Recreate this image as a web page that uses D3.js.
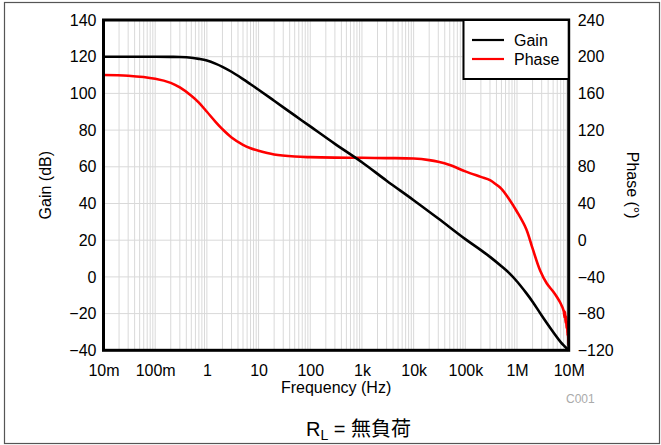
<!DOCTYPE html>
<html><head><meta charset="utf-8">
<script src="https://cdn.jsdelivr.net/npm/d3@7"></script>
<style>body{margin:0;background:#fff}svg{display:block;font-family:"Liberation Sans",Arial,sans-serif}</style>
</head><body><svg id="c" width="661" height="445"></svg>
<script>
// ---- data ----
const gainFreq = [0.01,0.03,0.1,0.2,0.3,0.5,0.7,1,1.5,2,3,5,7,10,20,50,100,300,1000,3000,10000,30000,100000,200000,300000,500000,700000,1e6,1.5e6,2e6,3e6,5e6,7e6,1e7];
const gainDb  = [120,120,120,119.9,119.8,119.4,118.8,117.9,116.1,114.5,111.8,107.8,105,102,96,88,82,72.5,62.5,52.4,41.8,31.8,20.6,14.6,10.9,5.8,2.2,-2.5,-8.7,-13.5,-21,-30,-35.5,-40];
const phaseFreq = [0.01,0.03,0.1,0.2,0.3,0.5,0.7,1,1.5,2,3,5,7,10,20,50,100,300,1000,3000,10000,20000,30000,50000,100000,200000,300000,400000,500000,700000,1e6,1.5e6,2e6,2.8e6,3.75e6,5e6,6e6,7e6,8e6,8.3e6,8.5e6,8.7e6,8.9e6,9.1e6,9.3e6,9.5e6,9.7e6,9.85e6,1e7];
const phaseDeg  = [180,179.3,176,171.5,166.5,157.5,150,140,128.5,121,112,104,100.3,97.5,93.5,91.2,90.5,90,89.8,89.5,89,87.3,85.5,82,75,69,65.5,60.5,56,45,31,12.5,-9,-33,-47,-56,-62.5,-69,-77,-84,-78,-90,-83,-96,-88,-104,-96,-110,-115];
const xTickVals   = [0.01,0.1,1,10,100,1000,1e4,1e5,1e6,1e7];
const xTickLabels = ["10m","100m","1","10","100","1k","10k","100k","1M","10M"];
const gainTicks  = [-40,-20,0,20,40,60,80,100,120,140];
const phaseTicks = [-120,-80,-40,0,40,80,120,160,200,240];
const seriesNames = ["Gain","Phase"];
const seriesColors = ["#000000","#ff0000"];

// ---- layout ----
const svg = d3.select("#c");
const L = 103.5, R = 568.7, T = 20, B = 350.3;
const x = d3.scaleLog().domain([0.01,1e7]).range([L,R]);
const yG = d3.scaleLinear().domain([-40,140]).range([B,T]);
const yP = d3.scaleLinear().domain([-120,240]).range([B,T]);

// outer frame
svg.append("rect").attr("x",4.5).attr("y",2.5).attr("width",655).attr("height",441)
  .attr("fill","none").attr("stroke","#555").attr("stroke-width",1.2);

// grid
const minor = [];
for (let e=-2;e<7;e++) for (let m=1;m<10;m++) minor.push(m*Math.pow(10,e));
minor.push(1e7);
const g = svg.append("g");
g.selectAll("line.v").data(minor).enter().append("line")
  .attr("x1",d=>x(d)).attr("x2",d=>x(d)).attr("y1",T).attr("y2",B)
  .attr("stroke","#d9d9d9").attr("stroke-width",1);
g.selectAll("line.h").data(gainTicks).enter().append("line")
  .attr("x1",L).attr("x2",R).attr("y1",d=>yG(d)).attr("y2",d=>yG(d))
  .attr("stroke","#d9d9d9").attr("stroke-width",1);

// axes
const fs = "16px";
const ax = svg.append("g").attr("transform",`translate(0,${B})`)
  .call(d3.axisBottom(x).tickValues(xTickVals).tickFormat((d,i)=>xTickLabels[i]).tickSize(0).tickPadding(14));
const ayl = svg.append("g").attr("transform",`translate(${L},0)`)
  .call(d3.axisLeft(yG).tickValues(gainTicks).tickSize(0).tickPadding(7));
const ayr = svg.append("g").attr("transform",`translate(${R},0)`)
  .call(d3.axisRight(yP).tickValues(phaseTicks).tickSize(0).tickPadding(9));
[ax,ayl,ayr].forEach(a=>{a.select(".domain").remove();a.selectAll("text").attr("font-size",fs).attr("fill","#000").attr("font-family","Liberation Sans, Arial, sans-serif");});

// curves
const lineG = d3.line().x((d,i)=>x(gainFreq[i])).y(d=>yG(d)).curve(d3.curveCatmullRom.alpha(0.5));
const lineP = d3.line().x((d,i)=>x(phaseFreq[i])).y(d=>yP(d)).curve(d3.curveCatmullRom.alpha(0.5));
svg.append("clipPath").attr("id","pc").append("rect").attr("x",L).attr("y",T-2).attr("width",R-L).attr("height",B-T+4);
svg.append("path").attr("d",lineP(phaseDeg)).attr("fill","none").attr("stroke",seriesColors[1]).attr("stroke-width",2.6).attr("stroke-linejoin","round").attr("clip-path","url(#pc)");
svg.append("path").attr("d",lineG(gainDb)).attr("fill","none").attr("stroke",seriesColors[0]).attr("stroke-width",2.6).attr("stroke-linejoin","round").attr("clip-path","url(#pc)");

// plot frame
svg.append("rect").attr("x",L).attr("y",T).attr("width",R-L).attr("height",B-T)
  .attr("fill","none").attr("stroke","#000").attr("stroke-width",3);

// legend
const lg = svg.append("g");
lg.append("rect").attr("x",463.5).attr("y",T).attr("width",R-463.5).attr("height",59)
  .attr("fill","#fff").attr("stroke","#000").attr("stroke-width",2);
seriesNames.forEach((n,i)=>{
  const yy = 40 + i*19;
  lg.append("line").attr("x1",472).attr("x2",504).attr("y1",yy).attr("y2",yy).attr("stroke",seriesColors[i]).attr("stroke-width",2.2);
  lg.append("text").attr("x",514).attr("y",yy+6).attr("font-size",fs).text(n);
});

// axis titles
svg.append("text").attr("x",(L+R)/2).attr("y",393).attr("text-anchor","middle").attr("font-size",fs).text("Frequency (Hz)");
svg.append("text").attr("transform",`translate(51,${(T+B)/2}) rotate(-90)`).attr("text-anchor","middle").attr("font-size",fs).text("Gain (dB)");
svg.append("text").attr("transform",`translate(627,${(T+B)/2}) rotate(90)`).attr("text-anchor","middle").attr("font-size",fs).text("Phase (°)");
svg.append("text").attr("x",566).attr("y",403).attr("font-size","12px").attr("fill","#aaa").text("C001");
const t = svg.append("text").attr("x",306).attr("y",436).attr("font-size","20px").attr("font-family","Liberation Sans, 'Noto Sans CJK JP', sans-serif");
t.append("tspan").text("R");
t.append("tspan").attr("font-size","14px").attr("dy",4).text("L");
t.append("tspan").attr("dy",-4).text(" = 無負荷");
</script></body></html>
